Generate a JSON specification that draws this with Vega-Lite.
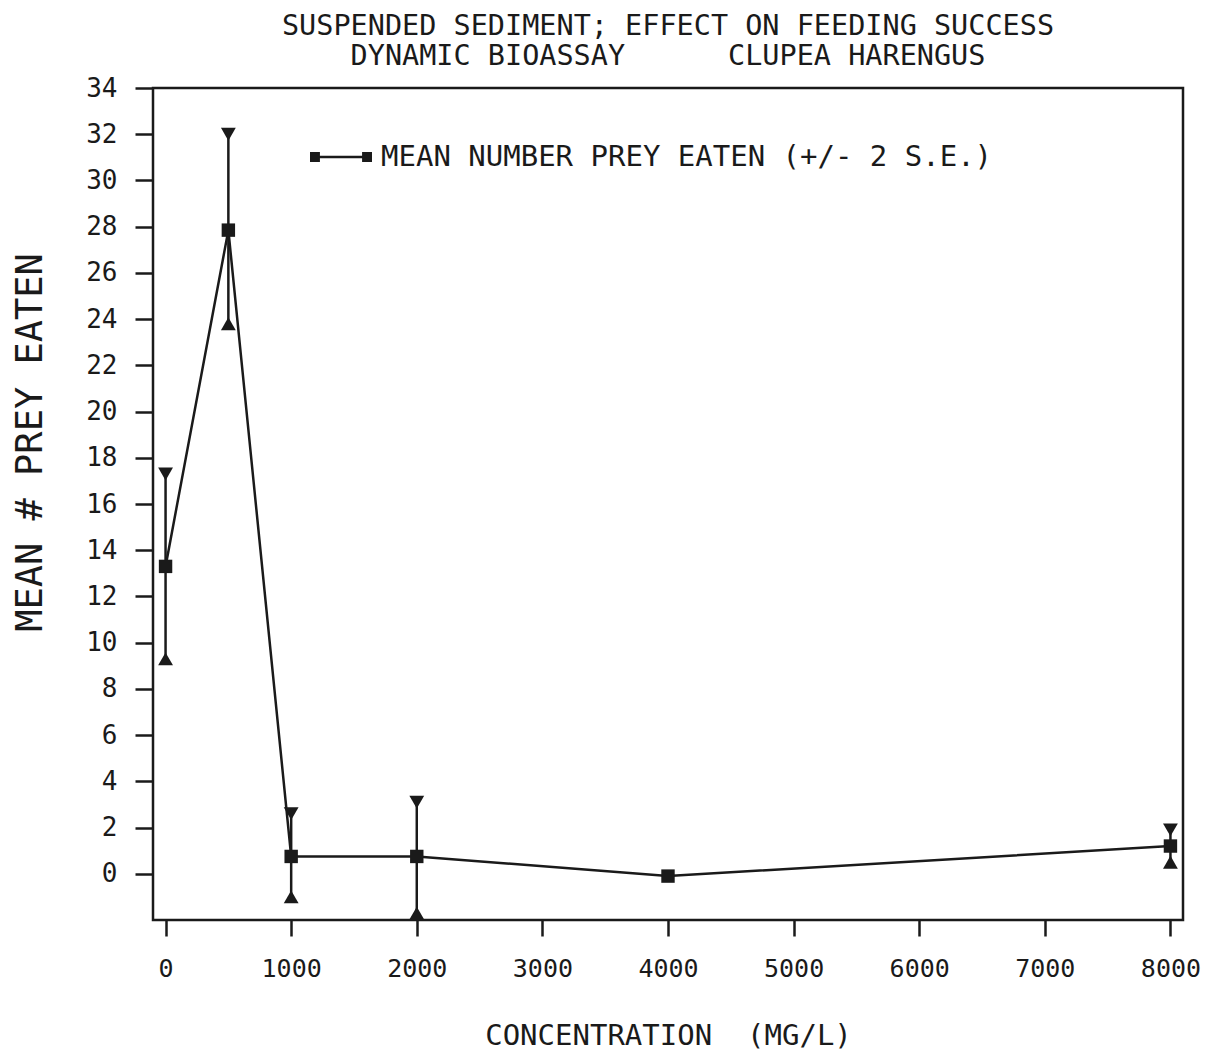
{
  "$schema": "https://vega.github.io/schema/vega-lite/v6.json",
  "width": 1030,
  "height": 832,
  "autosize": "none",
  "padding": {"left": 153, "top": 88, "right": 34, "bottom": 133},
  "background": "white",
  "config": {
    "font": "DejaVu Sans Mono",
    "view": {"stroke": "#1a1a1a", "strokeWidth": 2.5},
    "axis": {
      "domain": false,
      "grid": false,
      "tickColor": "#1a1a1a",
      "tickWidth": 2.5,
      "labelColor": "#1a1a1a",
      "titleColor": "#1a1a1a",
      "labelFont": "DejaVu Sans Mono",
      "titleFont": "DejaVu Sans Mono",
      "titleFontWeight": "normal"
    }
  },
  "title": {
    "text": ["SUSPENDED SEDIMENT; EFFECT ON FEEDING SUCCESS", "DYNAMIC BIOASSAY\u00a0\u00a0\u00a0\u00a0\u00a0\u00a0CLUPEA HARENGUS"],
    "font": "DejaVu Sans Mono",
    "fontSize": 28.5,
    "fontWeight": "normal",
    "color": "#1a1a1a",
    "lineHeight": 30,
    "anchor": "middle",
    "offset": 5
  },
  "data": {
    "values": [
      {"conc": 0, "mean": 13.3, "lower": 9.3, "upper": 17.3},
      {"conc": 500, "mean": 27.85, "lower": 23.8, "upper": 32.0},
      {"conc": 1000, "mean": 0.75, "lower": -1.0, "upper": 2.6},
      {"conc": 2000, "mean": 0.75, "lower": -1.7, "upper": 3.1},
      {"conc": 4000, "mean": -0.1, "lower": null, "upper": null},
      {"conc": 8000, "mean": 1.2, "lower": 0.5, "upper": 1.9}
    ]
  },
  "encoding": {
    "x": {
      "field": "conc",
      "type": "quantitative",
      "scale": {"domain": [-100, 8100], "nice": false, "zero": false},
      "axis": {
        "title": "CONCENTRATION\u00a0\u00a0(MG/L)",
        "values": [0, 1000, 2000, 3000, 4000, 5000, 6000, 7000, 8000],
        "format": "d",
        "labelFontSize": 25,
        "tickSize": 16,
        "labelPadding": 20,
        "titleFontSize": 29,
        "titlePadding": 40
      }
    }
  },
  "layer": [
    {
      "transform": [{"filter": "datum.upper != null"}],
      "mark": {"type": "rule", "color": "#1a1a1a", "strokeWidth": 2.5},
      "encoding": {
        "y": {
          "field": "lower",
          "type": "quantitative",
          "scale": {"domain": [-2, 34], "nice": false, "zero": false},
          "axis": {
            "title": "MEAN # PREY EATEN",
            "values": [0, 2, 4, 6, 8, 10, 12, 14, 16, 18, 20, 22, 24, 26, 28, 30, 32, 34],
            "format": "d",
            "labelFontSize": 26,
            "tickSize": 18,
            "labelPadding": 18,
            "titleFontSize": 37,
            "titlePadding": 36,
            "titleY": 354
          }
        },
        "y2": {"field": "upper"}
      }
    },
    {
      "transform": [{"filter": "datum.upper != null"}],
      "mark": {"type": "point", "shape": "triangle-down", "filled": true, "size": 220, "color": "#1a1a1a", "opacity": 1},
      "encoding": {
        "y": {
          "field": "upper",
          "type": "quantitative",
          "axis": {
            "title": "MEAN # PREY EATEN",
            "values": [0, 2, 4, 6, 8, 10, 12, 14, 16, 18, 20, 22, 24, 26, 28, 30, 32, 34],
            "format": "d",
            "labelFontSize": 26,
            "tickSize": 18,
            "labelPadding": 18,
            "titleFontSize": 37,
            "titlePadding": 36,
            "titleY": 354
          }
        }
      }
    },
    {
      "transform": [{"filter": "datum.lower != null"}],
      "mark": {"type": "point", "shape": "triangle-up", "filled": true, "size": 220, "color": "#1a1a1a", "opacity": 1},
      "encoding": {
        "y": {
          "field": "lower",
          "type": "quantitative",
          "axis": {
            "title": "MEAN # PREY EATEN",
            "values": [0, 2, 4, 6, 8, 10, 12, 14, 16, 18, 20, 22, 24, 26, 28, 30, 32, 34],
            "format": "d",
            "labelFontSize": 26,
            "tickSize": 18,
            "labelPadding": 18,
            "titleFontSize": 37,
            "titlePadding": 36,
            "titleY": 354
          }
        }
      }
    },
    {
      "mark": {"type": "line", "color": "#1a1a1a", "strokeWidth": 2.5},
      "encoding": {
        "y": {
          "field": "mean",
          "type": "quantitative",
          "axis": {
            "title": "MEAN # PREY EATEN",
            "values": [0, 2, 4, 6, 8, 10, 12, 14, 16, 18, 20, 22, 24, 26, 28, 30, 32, 34],
            "format": "d",
            "labelFontSize": 26,
            "tickSize": 18,
            "labelPadding": 18,
            "titleFontSize": 37,
            "titlePadding": 36,
            "titleY": 354
          }
        }
      }
    },
    {
      "mark": {"type": "point", "shape": "square", "filled": true, "size": 180, "opacity": 1},
      "encoding": {
        "y": {
          "field": "mean",
          "type": "quantitative",
          "axis": {
            "title": "MEAN # PREY EATEN",
            "values": [0, 2, 4, 6, 8, 10, 12, 14, 16, 18, 20, 22, 24, 26, 28, 30, 32, 34],
            "format": "d",
            "labelFontSize": 26,
            "tickSize": 18,
            "labelPadding": 18,
            "titleFontSize": 37,
            "titlePadding": 36,
            "titleY": 354
          }
        },
        "color": {
          "datum": "MEAN NUMBER PREY EATEN (+/- 2 S.E.)",
          "type": "nominal",
          "scale": {"range": ["#1a1a1a"]},
          "legend": {
            "title": null,
            "orient": "none",
            "legendX": 157,
            "legendY": 38,
            "padding": 0,
            "symbolType": "M-1,-0.16H-0.68V0.16H-1Z M0.68,-0.16H1V0.16H0.68Z M-0.68,-0.04H0.68V0.04H-0.68Z",
            "symbolSize": 3844,
            "symbolStrokeWidth": 0,
            "symbolFillColor": "#1a1a1a",
            "labelFont": "DejaVu Sans Mono",
            "labelFontSize": 29,
            "labelColor": "#1a1a1a",
            "labelOffset": 9,
            "labelLimit": 900
          }
        }
      }
    }
  ]
}
